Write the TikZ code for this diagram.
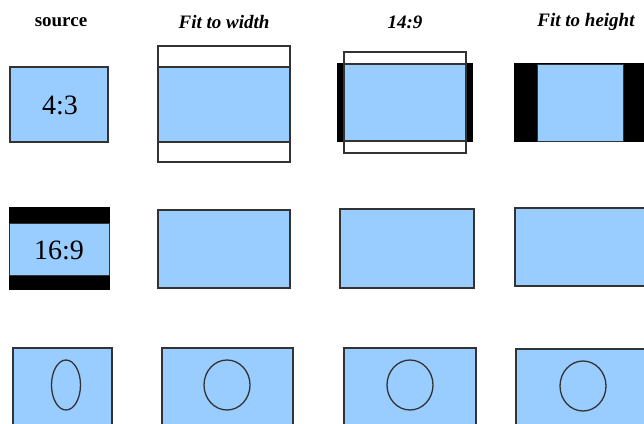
\documentclass[tikz,border=0pt]{standalone}
\usepackage{fontspec}
\setmainfont{Liberation Serif}
\definecolor{scr}{HTML}{99CCFF}
\definecolor{edge}{HTML}{333333}
\begin{document}
\begin{tikzpicture}[x=1pt,y=-1pt,
  frame/.style={draw=edge,line width=1.3pt},
  pic/.style={frame,fill=scr},
  bar/.style={fill=black},
  head/.style={font=\fontsize{19}{21}\selectfont\bfseries\itshape,inner sep=0pt},
  ratio/.style={font=\fontsize{28}{30}\selectfont,inner sep=0pt}]
\useasboundingbox (0,0) rectangle (644,423);
\clip (0,0) rectangle (644,423);
% headings
\node[head,font=\fontsize{19}{21}\selectfont\bfseries] (hsrc) at (61,22) {source};
\node[head] (hwidth) at (224,22) {Fit to width};
\node[head] (h149) at (405,22) {14:9};
\node[head] (hheight) at (586,22) {Fit to height};
% row 1: 4:3 source
\draw[pic] (10,67) rectangle (108,142);
\node[ratio] (r43) at (60,105) {4:3};
\draw[frame,fill=white] (158,46) rectangle (290,162);
\draw[pic] (158,67) rectangle (290,142);
\draw[bar] (337.5,63.5) rectangle (472.5,141.5);
\draw[pic,draw=none] (345,64) rectangle (465,141);
\draw[frame] (345,64) -- (465,64) (345,141) -- (465,141);
\draw[frame] (344,52) rectangle (466,153);
\draw[bar] (514,63.5) rectangle (660,141.5);
\draw[pic,line width=0.8pt] (537,64) rectangle (623,141);
% row 2: 16:9 source
\draw[bar] (9,207) rectangle (109,289);
\draw[pic,line width=0.8pt] (9,223) rectangle (109,275);
\node[ratio] (r169) at (59,250) {16:9};
\draw[pic] (158,210) rectangle (290,288);
\draw[pic] (340,209) rectangle (474,288);
\draw[pic] (515,208) rectangle (660,286);
% row 3: circles
\draw[pic] (13,348) rectangle (112,440);
\draw[frame] (66,385) ellipse [x radius=14.5,y radius=25];
\draw[pic] (162,348) rectangle (293,440);
\draw[frame] (227,385) ellipse [x radius=23,y radius=25];
\draw[pic] (344,348) rectangle (476,440);
\draw[frame] (410,385) ellipse [x radius=23,y radius=25];
\draw[pic] (516,349) rectangle (660,440);
\draw[frame] (583,386) ellipse [x radius=23,y radius=25];
\end{tikzpicture}
\end{document}
